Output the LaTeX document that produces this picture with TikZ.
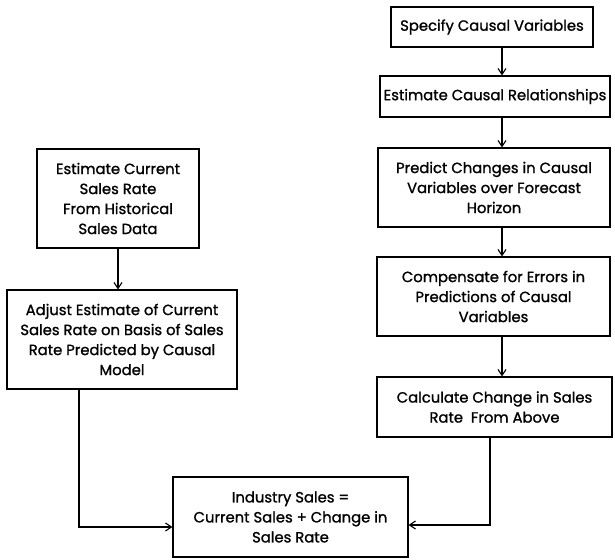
\documentclass[tikz,border=0pt]{standalone}
\usepackage{fontspec}
\setmainfont{Poppins}
\newfontfamily\boxfont{Poppins}[FakeBold=1.2]
\usetikzlibrary{arrows.meta}

\tikzset{
	blok/.style={draw, line width=1.1pt, align=center, inner sep=2pt,
		font=\boxfont\fontsize{14.8}{20}\selectfont},
	flow/.style={-{Straight Barb[length=6pt,width=8pt]}, line width=1.1pt}
}

\begin{document}
\begin{tikzpicture}[x=1pt, y=-1pt]
				\useasboundingbox (0,0) rectangle (615,559);
				
				% right column
				\node[blok, minimum width=202pt, minimum height=40pt] (spec) at (492,27) {Specify Causal Variables};
				\node[blok, minimum width=230pt, minimum height=41pt] (estrel) at (495,96.5) {Estimate Causal Relationships};
				\node[blok, minimum width=232pt, minimum height=79pt] (pred) at (494,187.5) {Predict Changes in Causal\\ Variables over Forecast\\ Horizon};
				\node[blok, minimum width=233pt, minimum height=79pt] (comp) at (493.5,296.5) {Compensate for Errors in\\ Predictions of Causal\\ Variables};
				\node[blok, minimum width=235pt, minimum height=60pt] (calc) at (494.5,407) {Calculate Change in Sales\\ Rate~ From Above};
				
				% left column
				\node[blok, minimum width=162pt, minimum height=99pt] (cur) at (118,198.5) {Estimate Current\\ Sales Rate\\ From Historical\\ Sales Data};
				\node[blok, minimum width=230pt, minimum height=99pt] (adj) at (122,339.5) {Adjust Estimate of Current\\ Sales Rate on Basis of Sales\\ Rate Predicted by Causal\\ Model};
				
				% result
				\node[blok, minimum width=235pt, minimum height=80pt] (tot) at (290.5,517) {Industry Sales =\\ Current Sales + Change in\\ Sales Rate};
				
				\coordinate (rx) at (502,0);
				\coordinate (lx) at (79,0);
				\coordinate (cx) at (490,0);
				
				\draw[flow] (spec.south -| rx) -- (estrel.north -| rx);
				\draw[flow] (estrel.south -| rx) -- (pred.north -| rx);
				\draw[flow] (pred.south -| rx) -- (comp.north -| rx);
				\draw[flow] (comp.south -| rx) -- (calc.north -| rx);
				
				\draw[flow] (cur.south) -- (cur.south |- adj.north);
				
				\draw[flow] (adj.south -| lx) |- ([yshift=-10pt]tot.west);
				\draw[flow] (calc.south -| cx) |- ([yshift=-8pt]tot.east);
\end{tikzpicture}
\end{document}
